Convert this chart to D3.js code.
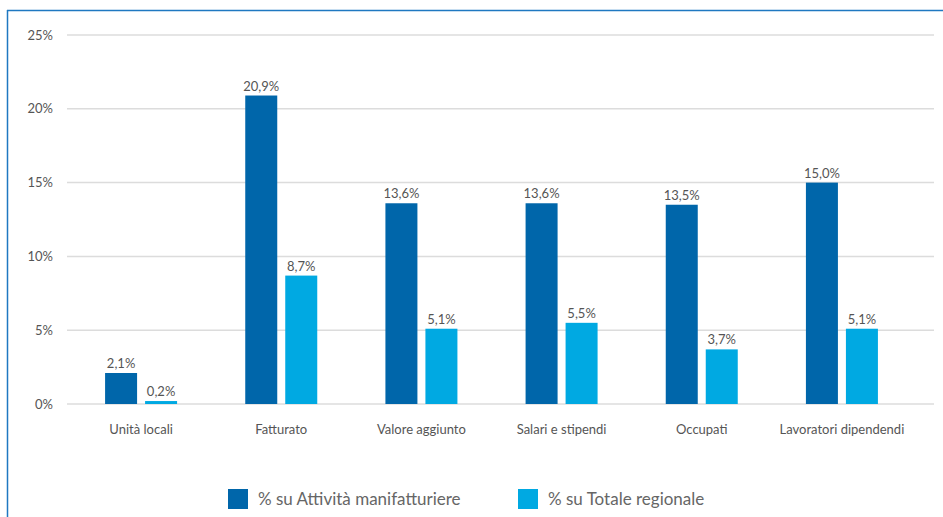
<!DOCTYPE html>
<html>
<head>
<meta charset="utf-8">
<script src="https://cdn.jsdelivr.net/npm/d3@7"></script>
<style>
  body { margin: 0; background: #fff; }
  text { font-family: Lato, "Open Sans", sans-serif; fill: #555; }
</style>
</head>
<body>
<svg id="chart" width="943" height="517"></svg>
<script>
// data
const categories = ["Unità locali", "Fatturato", "Valore aggiunto", "Salari e stipendi", "Occupati", "Lavoratori dipendendi"];
const seriesNames = ["% su Attività manifatturiere", "% su Totale regionale"];
const manifatturiere = [2.1, 20.9, 13.6, 13.6, 13.5, 15.0];
const totaleRegionale = [0.2, 8.7, 5.1, 5.5, 3.7, 5.1];
const yTicks = [0, 5, 10, 15, 20, 25];

const colors = ["#0066aa", "#00a9e2"];

const svg = d3.select("#chart");

// frame
svg.append("line").attr("x1", 7.5).attr("x2", 7.5).attr("y1", 10).attr("y2", 517)
  .style("stroke", "#1f78c1").style("stroke-width", 1.5);
svg.append("line").attr("x1", 7).attr("x2", 943).attr("y1", 10.5).attr("y2", 10.5)
  .style("stroke", "#1f78c1").style("stroke-width", 1.5);

const y = d3.scaleLinear().domain([0, 25]).range([404, 35]);
const x = d3.scaleBand().domain(categories).range([71, 912]);
const inner = d3.scaleBand().domain([0, 1]).range([-36, 36]).paddingInner(0.2);

// gridlines
svg.append("g").selectAll("line").data(yTicks).enter().append("line")
  .attr("x1", 67).attr("x2", 934)
  .attr("y1", d => y(d)).attr("y2", d => y(d))
  .style("stroke", "#dcdcdc").style("stroke-width", 1.5);

// y labels
svg.append("g").selectAll("text").data(yTicks).enter().append("text")
  .attr("x", 53).attr("y", d => y(d)).attr("dy", "0.35em")
  .attr("text-anchor", "end").style("font-size", "13px")
  .text(d => d + "%");

// bars
const rows = categories.map((c, i) => [manifatturiere[i], totaleRegionale[i]]);
const groups = svg.append("g").selectAll("g").data(rows).enter().append("g")
  .attr("transform", (d, i) => `translate(${x(categories[i]) + x.bandwidth() / 2},0)`);

groups.selectAll("rect").data(d => d).enter().append("rect")
  .attr("x", (d, j) => inner(j))
  .attr("width", inner.bandwidth())
  .attr("y", d => y(d))
  .attr("height", d => y(0) - y(d))
  .style("fill", (d, j) => colors[j]);

groups.selectAll("text.val").data(d => d).enter().append("text")
  .attr("class", "val")
  .attr("x", (d, j) => inner(j) + inner.bandwidth() / 2)
  .attr("y", d => y(d) - 5)
  .attr("text-anchor", "middle").style("font-size", "13px")
  .text(d => d.toFixed(1).replace(".", ",") + "%");

// category labels
svg.append("g").selectAll("text").data(categories).enter().append("text")
  .attr("x", d => x(d) + x.bandwidth() / 2).attr("y", 434)
  .attr("text-anchor", "middle").style("font-size", "13px")
  .text(d => d);

// legend
const legendX = [228, 518];
const legend = svg.append("g").selectAll("g").data(seriesNames).enter().append("g")
  .attr("transform", (d, i) => `translate(${legendX[i]},489)`);
legend.append("rect").attr("width", 20).attr("height", 20).style("fill", (d, i) => colors[i]);
legend.append("text").attr("x", 30).attr("y", 10).attr("dy", "0.35em")
  .style("font-size", "17px").style("fill", "#666").text(d => d);
</script>
</body>
</html>
